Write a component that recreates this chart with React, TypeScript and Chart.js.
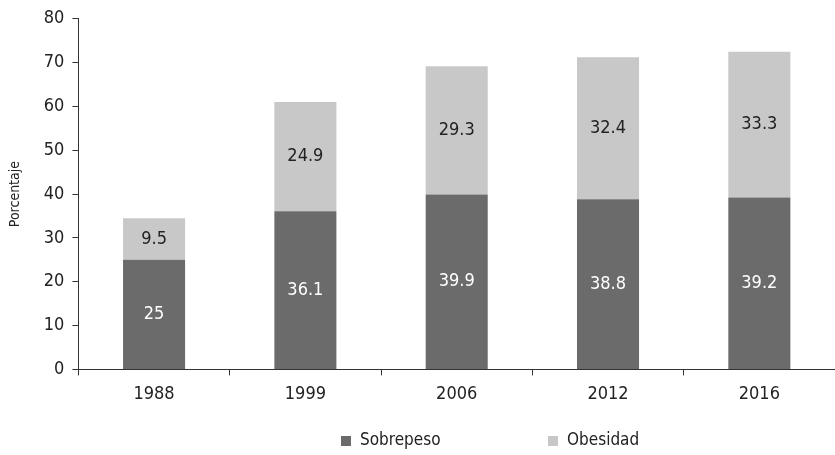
import React, { useEffect, useRef } from "react";
import { Chart, registerables } from "chart.js";

Chart.register(...registerables);

const years = ["1988", "1999", "2006", "2012", "2016"];
const sobrepeso = [25, 36.1, 39.9, 38.8, 39.2];
const obesidad = [9.5, 24.9, 29.3, 32.4, 33.3];
const yTicks = [0, 10, 20, 30, 40, 50, 60, 70, 80];

const FAMILY = "'DejaVu Sans', sans-serif";
const STRETCH = "condensed";
const DARK = "#6b6b6b";
const LIGHT = "#c8c8c8";
const AXIS = "#333333";
const TEXT = "#222222";

const labelPlugin = {
  id: "segLabels",
  afterDatasetsDraw(chart: any) {
    const ctx = chart.ctx;
    ctx.save();
    ctx.font = `normal ${STRETCH} 18px ${FAMILY}`;
    ctx.textAlign = "center";
    ctx.textBaseline = "middle";
    chart.data.datasets.forEach((ds: any, di: number) => {
      const meta = chart.getDatasetMeta(di);
      meta.data.forEach((bar: any, i: number) => {
        const v = ds.data[i];
        const yc = (bar.y + bar.base) / 2;
        ctx.fillStyle = di === 0 ? "#ffffff" : TEXT;
        ctx.fillText(String(v), bar.x, yc);
      });
    });
    ctx.restore();
  },
  afterDraw(chart: any) {
    const ctx = chart.ctx;
    ctx.save();
    ctx.font = `normal ${STRETCH} 17px ${FAMILY}`;
    ctx.textBaseline = "middle";
    ctx.textAlign = "left";
    const items = [
      { x: 341, label: chart.data.datasets[0].label, color: DARK },
      { x: 548, label: chart.data.datasets[1].label, color: LIGHT },
    ];
    const y = 441;
    items.forEach((it) => {
      ctx.fillStyle = it.color;
      ctx.fillRect(it.x, y - 5, 10, 10);
      ctx.fillStyle = TEXT;
      ctx.fillText(it.label, it.x + 19, y);
    });
    ctx.restore();
  },
};

export default function App() {
  const ref = useRef<HTMLCanvasElement>(null);
  useEffect(() => {
    document.body.style.margin = "0";
    const tickFont = { family: FAMILY, style: "normal" as const, weight: STRETCH as any, size: 18 };
    const chart = new Chart(ref.current!, {
      type: "bar",
      data: {
        labels: years,
        datasets: [
          { label: "Sobrepeso", data: sobrepeso, backgroundColor: DARK, barPercentage: 0.41, categoryPercentage: 1 },
          { label: "Obesidad", data: obesidad, backgroundColor: LIGHT, barPercentage: 0.41, categoryPercentage: 1 },
        ],
      },
      options: {
        animation: false,
        responsive: false,
        layout: { padding: { left: 7, right: 0, top: 16, bottom: 42 } },
        plugins: { legend: { display: false }, tooltip: { enabled: false } },
        scales: {
          x: {
            stacked: true,
            offset: true,
            grid: { offset: true, drawOnChartArea: false, drawTicks: true, tickLength: 6, color: AXIS },
            border: { display: true, color: AXIS, width: 1 },
            ticks: { color: TEXT, font: tickFont, padding: 8 },
          },
          y: {
            stacked: true,
            min: 0,
            max: 80,
            afterBuildTicks: (axis: any) => {
              axis.ticks = yTicks.map((v) => ({ value: v }));
            },
            grid: { drawOnChartArea: false, drawTicks: true, tickLength: 6, color: AXIS },
            border: { display: true, color: AXIS, width: 1 },
            ticks: { color: TEXT, font: tickFont, padding: 8 },
            title: { display: true, text: "Porcentaje", color: TEXT, font: { family: FAMILY, style: "normal" as const, weight: STRETCH as any, size: 14 }, padding: { top: 0, bottom: 12 } },
          },
        },
      },
      plugins: [labelPlugin],
    });
    return () => chart.destroy();
  }, []);
  return <canvas ref={ref} width={835} height={455} style={{ display: "block" }} />;
}
